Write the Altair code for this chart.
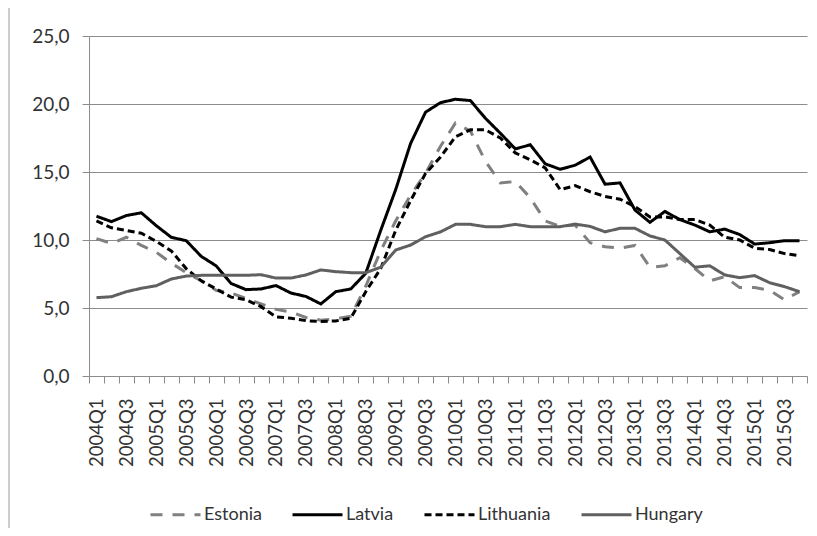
import altair as alt
import pandas as pd

quarters = [f"{y}Q{q}" for y in range(2004, 2016) for q in range(1, 5)]

series_names = ["Estonia", "Latvia", "Lithuania", "Hungary"]

estonia = [10.1, 9.75, 10.2, 9.6,
           9.1, 8.3, 7.6, 7.0,
           6.3, 6.1, 5.7, 5.3,
           4.9, 4.7, 4.3, 4.1,
           4.2, 4.4, 6.6, 9.2,
           11.4, 13.3, 14.9, 16.9,
           18.6, 18.0, 15.8, 14.2,
           14.3, 13.1, 11.4, 11.0,
           11.1, 9.8, 9.5, 9.4,
           9.6, 8.0, 8.1, 8.7,
           7.9, 7.0, 7.3, 6.5,
           6.5, 6.3, 5.6, 6.2]

latvia = [11.75, 11.35, 11.8, 12.0,
          11.05, 10.2, 9.95, 8.8,
          8.1, 6.8, 6.35, 6.4,
          6.65, 6.1, 5.85, 5.3,
          6.2, 6.4, 7.55, 10.7,
          13.7, 17.1, 19.4, 20.1,
          20.35, 20.25, 18.95, 17.85,
          16.7, 17.0, 15.6, 15.2,
          15.5, 16.1, 14.1, 14.2,
          12.2, 11.3, 12.1, 11.5,
          11.1, 10.6, 10.8, 10.4,
          9.7, 9.8, 9.95, 9.95]

lithuania = [11.4, 10.9, 10.7, 10.5,
             9.9, 9.2, 7.9, 7.0,
             6.4, 5.8, 5.6, 5.1,
             4.35, 4.25, 4.07, 4.0,
             4.05, 4.25, 6.2, 7.9,
             10.7, 12.9, 14.9, 16.1,
             17.6, 18.1, 18.1, 17.5,
             16.4, 15.9, 15.3, 13.7,
             14.0, 13.55, 13.2, 13.0,
             12.45, 11.7, 11.7, 11.5,
             11.5, 11.1, 10.2, 10.0,
             9.4, 9.3, 9.0, 8.85]

hungary = [5.76, 5.83, 6.2, 6.45,
           6.64, 7.13, 7.35, 7.4,
           7.4, 7.4, 7.4, 7.45,
           7.2, 7.2, 7.43, 7.8,
           7.67, 7.6, 7.6, 8.0,
           9.26, 9.63, 10.24, 10.6,
           11.15, 11.15, 10.98, 10.98,
           11.15, 10.98, 10.98, 10.98,
           11.17, 11.0, 10.6, 10.86,
           10.86, 10.3, 10.0, 9.0,
           8.0, 8.1, 7.43, 7.23,
           7.38, 6.86, 6.57, 6.2]

values = {"Estonia": estonia, "Latvia": latvia, "Lithuania": lithuania, "Hungary": hungary}

rows = []
for s in series_names:
    for q, v in zip(quarters, values[s]):
        rows.append({"quarter": q, "series": s, "value": v})
df = pd.DataFrame(rows)

colors = ["#808080", "#000000", "#000000", "#606060"]
dashes = [[12, 10], [1, 0], [7, 4], [1, 0]]

FONT = "Lato"

legend = alt.Legend(orient="none", legendX=60, legendY=452, direction="horizontal",
                    title=None, symbolType="stroke", symbolSize=2500,
                    symbolStrokeWidth=3, labelFont=FONT, labelFontSize=18,
                    labelColor="#333", labelOffset=2, columnPadding=24,
                    labelLimit=0, padding=0)

base = alt.Chart(df).mark_line(strokeWidth=3).encode(
    x=alt.X("quarter:O", sort=quarters,
            scale=alt.Scale(type="band", domain=quarters, paddingInner=0, paddingOuter=0),
            axis=alt.Axis(title=None, labelAngle=-90, tickBand="extent", tickExtra=True,
                          labelExpr="(substring(datum.value,5,6)=='1' || substring(datum.value,5,6)=='3') ? datum.value : ''",
                          labelOverlap=False, labelFont=FONT, labelFontSize=18.5, labelColor="#333",
                          labelPadding=15, tickSize=7, tickColor="#8c8c8c", domainColor="#8c8c8c",
                          grid=False)),
    y=alt.Y("value:Q", scale=alt.Scale(domain=[0, 25], nice=False),
            axis=alt.Axis(title=None, values=[0, 5, 10, 15, 20, 25],
                          labelExpr="replace(format(datum.value, '.1f'), '.', ',')",
                          labelFont=FONT, labelFontSize=19, labelColor="#333", labelPadding=13,
                          tickSize=7, tickColor="#8c8c8c", domainColor="#8c8c8c",
                          gridColor="#8c8c8c", gridWidth=1)),
    color=alt.Color("series:N", scale=alt.Scale(domain=series_names, range=colors), legend=legend),
    strokeDash=alt.StrokeDash("series:N", scale=alt.Scale(domain=series_names, range=dashes),
                              legend=legend),
)

layers = [base.transform_filter(alt.datum.series == s) for s in series_names]

border = alt.Chart(pd.DataFrame({"a": [0]})).mark_rule(color="#9a9a9a", strokeWidth=1).encode(
    x=alt.value(-80), y=alt.value(-36), y2=alt.value(500)
)

chart = alt.layer(border, *layers).properties(
    width=718, height=340,
    autosize=alt.AutoSizeParams(type="none"),
    padding={"left": 81, "top": 28, "right": 2, "bottom": 152},
).configure_view(stroke=None)

chart.save("out.html", embed_options={"renderer": "svg", "actions": False})
